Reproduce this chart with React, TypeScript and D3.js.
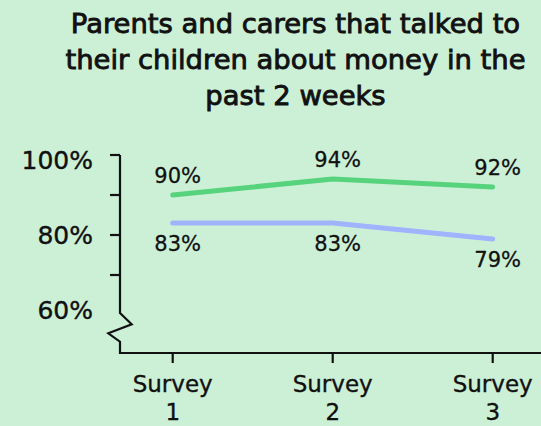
import React from "react";
import * as d3 from "d3";

const categories = ["Survey 1", "Survey 2", "Survey 3"];
const greenValues = [90, 94, 92];
const blueValues = [83, 83, 79];
const yTickValues = [100, 90, 80, 70];
const yLabelValues = [100, 80, 60];
const titleLines = [
  "Parents and carers that talked to",
  "their children about money in the",
  "past 2 weeks",
];

const W = 541;
const H = 426;
const FONT = "'DejaVu Sans', sans-serif";
const BG = "#CCF0D6";
const GREEN = "#57D37D";
const BLUE = "#A0B3FF";
const INK = "#111";

export default function App() {
  const axisX = 120;
  const baseY = 353;
  const x = d3.scalePoint<string>().domain(categories).range([172.7, 492.7]);
  const y = d3.scaleLinear().domain([50, 100]).range([355, 155]);
  const yLabel = d3.scaleLinear().domain([60, 100]).range([318.5, 169.3]);

  const line = d3
    .line<number>()
    .x((_, i) => x(categories[i]) as number)
    .y((d) => y(d));

  const zig = `M${axisX},${y(100)} L${axisX},313 L131.7,324.3 L108.3,333.3 L${axisX},341.7 L${axisX},${baseY} L${W},${baseY}`;

  return (
    <svg
      width={W}
      height={H}
      style={{ position: "absolute", left: 0, top: 0 }}
      fontFamily={FONT}
    >
      <rect width={W} height={H} fill={BG} />
      {titleLines.map((t, i) => (
        <text
          key={i}
          x={295.5}
          y={33 + i * 36}
          textAnchor="middle"
          fontSize={27.4}
          fill={INK}
          stroke={INK}
          strokeWidth={0.9}
        >
          {t}
        </text>
      ))}
      {/* axes */}
      <path d={zig} fill="none" stroke={INK} strokeWidth={2.2} />
      {yTickValues.map((v) => (
        <line
          key={v}
          x1={axisX - 10}
          x2={axisX}
          y1={y(v)}
          y2={y(v)}
          stroke={INK}
          strokeWidth={2.2}
        />
      ))}
      {yLabelValues.map((v) => (
        <text
          key={v}
          x={93}
          y={yLabel(v)}
          textAnchor="end"
          fontSize={25}
          fill={INK}
          stroke={INK}
          strokeWidth={0.4}
        >
          {v}%
        </text>
      ))}
      {categories.map((c) => {
        const [a, b] = c.split(" ");
        const cx = x(c) as number;
        return (
          <g key={c}>
            <line x1={cx} x2={cx} y1={baseY} y2={baseY + 10} stroke={INK} strokeWidth={2.2} />
            <text x={cx} y={392} textAnchor="middle" fontSize={23} fill={INK} stroke={INK} strokeWidth={0.35}>
              {a}
            </text>
            <text x={cx} y={420} textAnchor="middle" fontSize={23} fill={INK} stroke={INK} strokeWidth={0.35}>
              {b}
            </text>
          </g>
        );
      })}
      {/* lines */}
      <path d={line(blueValues) || ""} fill="none" stroke={BLUE} strokeWidth={5} strokeLinecap="round" strokeLinejoin="round" />
      <path d={line(greenValues) || ""} fill="none" stroke={GREEN} strokeWidth={5} strokeLinecap="round" strokeLinejoin="round" />
      {greenValues.map((v, i) => (
        <text
          key={"g" + i}
          x={(x(categories[i]) as number) + 5}
          y={y(v) - 12.5}
          textAnchor="middle"
          fontSize={21}
          fill={INK}
          stroke={INK}
          strokeWidth={0.3}
        >
          {v}%
        </text>
      ))}
      {blueValues.map((v, i) => (
        <text
          key={"b" + i}
          x={(x(categories[i]) as number) + 5}
          y={y(v) + 28}
          textAnchor="middle"
          fontSize={21}
          fill={INK}
          stroke={INK}
          strokeWidth={0.3}
        >
          {v}%
        </text>
      ))}
    </svg>
  );
}
